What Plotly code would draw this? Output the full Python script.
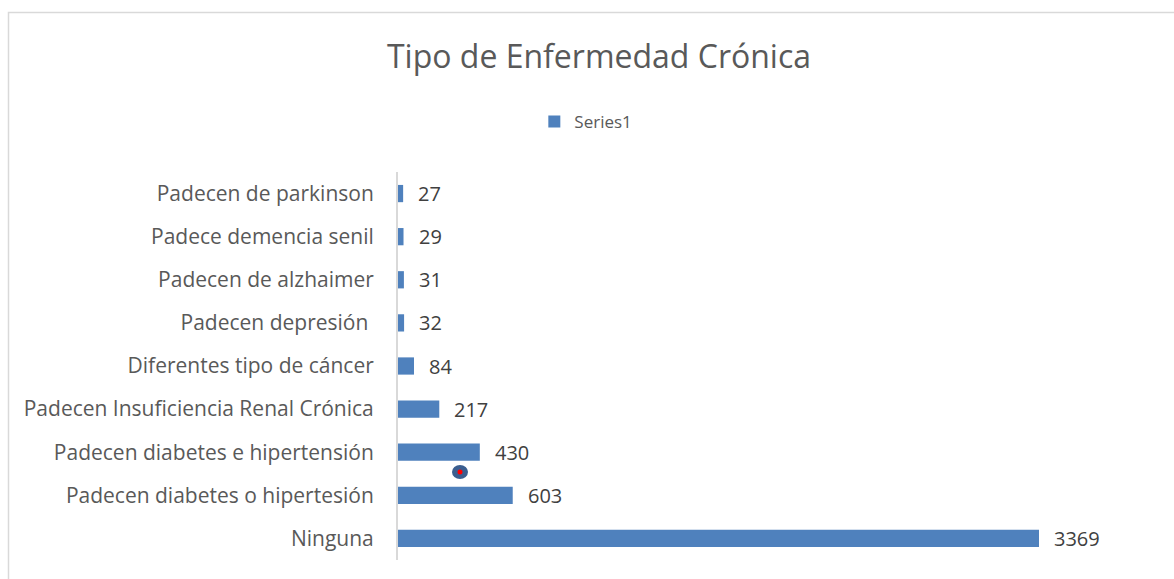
import plotly.graph_objects as go

categories = [
    "Ninguna",
    "Padecen diabetes o hipertesión",
    "Padecen diabetes e hipertensión",
    "Padecen Insuficiencia Renal Crónica",
    "Diferentes tipo de cáncer",
    "Padecen depresión ",
    "Padecen de alzhaimer",
    "Padece demencia senil",
    "Padecen de parkinson",
]
values = [3369, 603, 430, 217, 84, 32, 31, 29, 27]

W, H = 1174, 579
ML, MR, MT, MB = 398, 34, 172, 19
PW = W - ML - MR
PH = H - MT - MB

def px2x(px):
    return (px - ML) / PW

def py2y(py):
    return (H - MB - py) / PH

FONT = "Open Sans"
TXT = "#404040"

fig = go.Figure()
fig.add_trace(go.Bar(
    y=categories, x=values, orientation="h", name="Series1",
    marker=dict(color="#4f81bd", line=dict(width=0)),
    width=0.4, showlegend=True,
))

annotations = []
for c, v in zip(categories, values):
    annotations.append(dict(
        x=v, y=c, xref="x", yref="y", text=str(v), showarrow=False,
        xanchor="left", yanchor="middle", xshift=13,
        font=dict(family=FONT, size=20, color=TXT),
    ))

shapes = [
    dict(type="rect", xref="paper", yref="paper",
         x0=px2x(8.5), x1=px2x(1190), y0=py2y(600), y1=py2y(12.5),
         line=dict(color="#d9d9d9", width=1.5), fillcolor="rgba(0,0,0,0)", layer="below"),
    dict(type="circle", xref="paper", yref="paper",
         x0=px2x(452), x1=px2x(468), y0=py2y(479), y1=py2y(465),
         line=dict(width=0), fillcolor="#3b5e8f"),
    dict(type="circle", xref="paper", yref="paper",
         x0=px2x(457.5), x1=px2x(462.5), y0=py2y(474.5), y1=py2y(469.5),
         line=dict(width=0), fillcolor="#ff0000"),
]

fig.update_layout(
    width=W, height=H,
    margin=dict(l=ML, r=MR, t=MT, b=MB, pad=0),
    paper_bgcolor="white", plot_bgcolor="white",
    title=dict(text="Tipo de Enfermedad Crónica", x=599 / W, xref="container",
               xanchor="center", y=1 - 57 / H, yref="container", yanchor="middle",
               font=dict(family=FONT, size=32, color="#595959")),
    legend=dict(orientation="h", xref="container", yref="container",
                x=0.499, xanchor="center", y=1 - 122 / H, yanchor="middle",
                font=dict(family=FONT, size=17, color="#595959"),
                itemwidth=30, traceorder="normal"),
    xaxis=dict(range=[0, PW / (641 / 3369)], visible=False, showgrid=False, zeroline=False),
    yaxis=dict(categoryorder="array", categoryarray=categories,
               showline=True, linecolor="#d9d9d9", linewidth=2,
               ticks="", ticklabelstandoff=18,
               tickfont=dict(family=FONT, size=21, color="#595959"),
               showgrid=False, zeroline=False),
    annotations=annotations,
    shapes=shapes,
    bargap=0.6,
)

fig.write_html("out.html", config={"displayModeBar": False},
               post_script="document.body.style.margin='0';")
